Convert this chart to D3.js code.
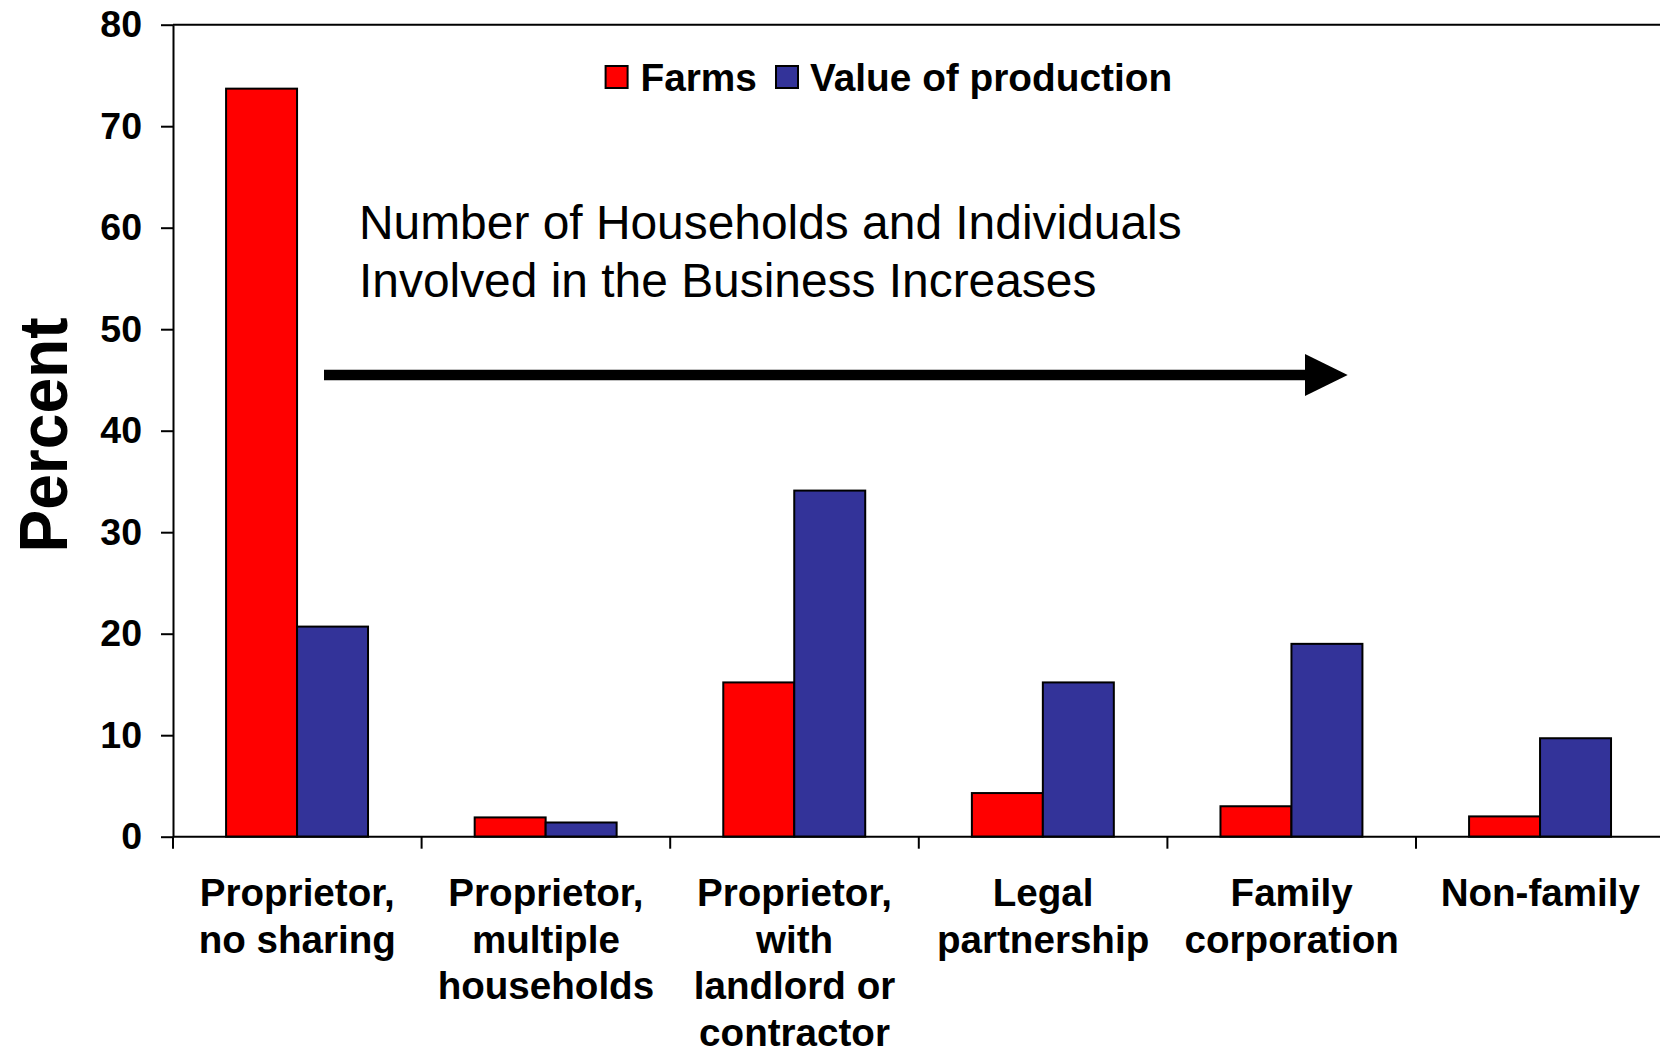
<!DOCTYPE html>
<html>
<head>
<meta charset="utf-8">
<script src="https://cdn.jsdelivr.net/npm/d3@7"></script>
<style>
  html, body { margin: 0; padding: 0; background: #fff; }
  svg { display: block; font-family: Arial, "Liberation Sans", Helvetica, sans-serif; }
</style>
</head>
<body>
<script>
// ---- data ----
const categories = [
  ["Proprietor,", "no sharing"],
  ["Proprietor,", "multiple", "households"],
  ["Proprietor,", "with", "landlord or", "contractor"],
  ["Legal", "partnership"],
  ["Family", "corporation"],
  ["Non-family"]
];
const seriesNames = ["Farms", "Value of production"];
const farms = [73.7, 1.9, 15.2, 4.3, 3.0, 2.0];
const valueOfProduction = [20.7, 1.4, 34.1, 15.2, 19.0, 9.7];
const yTicks = [0, 10, 20, 30, 40, 50, 60, 70, 80];
const seriesColors = ["#FF0000", "#333399"];
const annotationLines = ["Number of Households and Individuals", "Involved in the Business Increases"];

// ---- layout ----
const W = 1660, H = 1055;
const plot = { left: 173, top: 24.7, right: 1664.6, bottom: 836.7 };

const svg = d3.select("body").append("svg").attr("width", W).attr("height", H);

const catKeys = categories.map((c, i) => i);
const x0 = d3.scaleBand().domain(catKeys).range([plot.left, plot.right]).padding(0);
const bw = x0.bandwidth();
const x1 = d3.scaleBand().domain(seriesNames).range([bw * 0.2135, bw * 0.7845]).padding(0);
const y = d3.scaleLinear().domain([0, 80]).range([plot.bottom, plot.top]);

const seriesValues = [farms, valueOfProduction];

// bars
seriesNames.forEach((s, si) => {
  svg.append("g").selectAll("rect")
    .data(seriesValues[si])
    .join("rect")
    .attr("x", (d, i) => x0(i) + x1(s))
    .attr("y", d => y(d))
    .attr("width", x1.bandwidth())
    .attr("height", d => y(0) - y(d))
    .attr("fill", seriesColors[si])
    .attr("stroke", "#000")
    .attr("stroke-width", 2);
});

// frame (top / right)
svg.append("path")
  .attr("d", `M${plot.left},${plot.top}H${plot.right}V${plot.bottom}`)
  .attr("fill", "none").attr("stroke", "#000").attr("stroke-width", 2);

// y axis
const yAxis = svg.append("g")
  .attr("transform", `translate(${plot.left},0)`)
  .call(d3.axisLeft(y).tickValues(yTicks).tickSize(12).tickSizeOuter(0).tickPadding(19));
yAxis.select(".domain").attr("stroke", "#000").attr("stroke-width", 2);
yAxis.selectAll(".tick line").attr("stroke", "#000").attr("stroke-width", 2);
yAxis.selectAll(".tick text")
  .attr("fill", "#000")
  .style("font-size", "37.5px").style("font-weight", "bold")
  .style("font-family", "Arial, 'Liberation Sans', sans-serif");

// x axis line and boundary ticks
svg.append("line")
  .attr("x1", plot.left).attr("x2", plot.right)
  .attr("y1", y(0)).attr("y2", y(0))
  .attr("stroke", "#000").attr("stroke-width", 2);
const boundaries = catKeys.map(i => x0(i)).concat([x0(catKeys.length - 1) + bw]);
svg.append("g").selectAll("line")
  .data(boundaries)
  .join("line")
  .attr("x1", d => d).attr("x2", d => d)
  .attr("y1", y(0)).attr("y2", y(0) + 12)
  .attr("stroke", "#000").attr("stroke-width", 2);

// category labels
const lab = svg.append("g");
categories.forEach((lines, i) => {
  const t = lab.append("text")
    .attr("text-anchor", "middle")
    .attr("font-size", 38.6).attr("font-weight", "bold")
    .attr("fill", "#000");
  lines.forEach((ln, k) => {
    t.append("tspan")
      .attr("x", x0(i) + bw / 2)
      .attr("y", 906 + k * 46.6)
      .text(ln);
  });
});

// y axis title
svg.append("text")
  .attr("transform", "translate(67,435) rotate(-90)")
  .attr("text-anchor", "middle")
  .attr("font-size", 69).attr("font-weight", "bold")
  .attr("textLength", 235).attr("lengthAdjust", "spacingAndGlyphs")
  .attr("fill", "#000")
  .text("Percent");

// legend
const legendItems = [
  { name: seriesNames[0], color: seriesColors[0], sx: 605.6, tx: 640.5 },
  { name: seriesNames[1], color: seriesColors[1], sx: 776, tx: 810 }
];
const lg = svg.append("g");
lg.selectAll("rect").data(legendItems).join("rect")
  .attr("x", d => d.sx).attr("y", 66)
  .attr("width", 22).attr("height", 22)
  .attr("fill", d => d.color).attr("stroke", "#000").attr("stroke-width", 2);
lg.selectAll("text").data(legendItems).join("text")
  .attr("x", d => d.tx).attr("y", 91)
  .attr("font-size", 38.8).attr("font-weight", "bold").attr("fill", "#000")
  .text(d => d.name);

// annotation text
const ann = svg.append("text").attr("font-size", 47.9).attr("fill", "#000");
annotationLines.forEach((ln, k) => {
  ann.append("tspan").attr("x", 359).attr("y", 238.5 + k * 58.3).text(ln);
});

// arrow
svg.append("line")
  .attr("x1", 324).attr("x2", 1306)
  .attr("y1", 375).attr("y2", 375)
  .attr("stroke", "#000").attr("stroke-width", 10.7);
svg.append("path")
  .attr("d", "M1305,354L1347.7,375L1305,396Z")
  .attr("fill", "#000");
</script>
</body>
</html>
